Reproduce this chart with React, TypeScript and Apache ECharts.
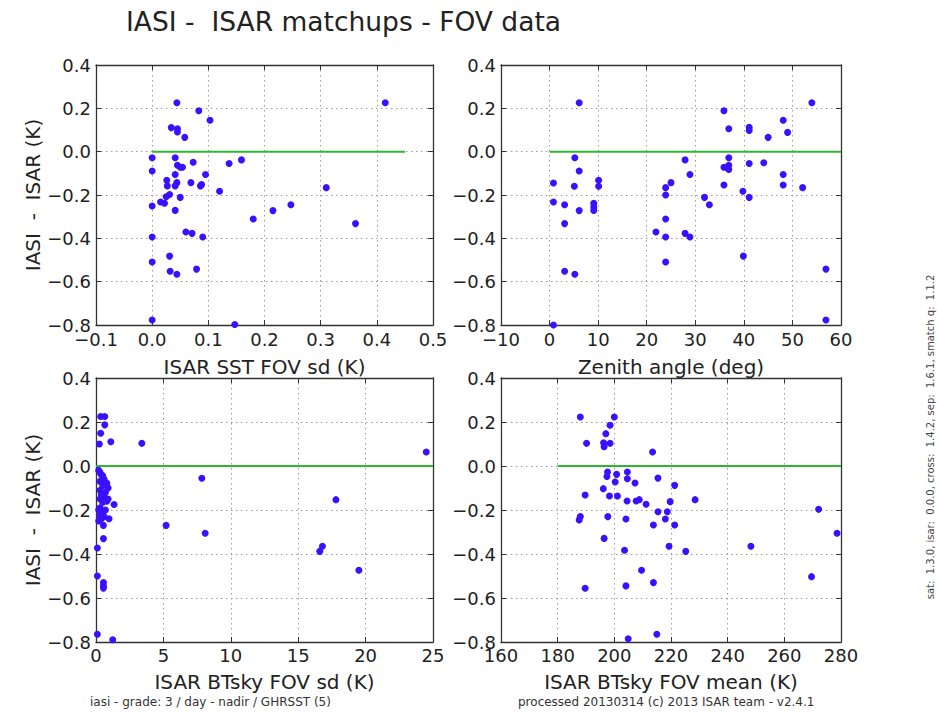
import React, { useEffect, useRef } from "react";
import * as echarts from "echarts";

const TITLE = "IASI -  ISAR matchups - FOV data";
const Y_NAME = "IASI  -  ISAR (K)";
const X_NAMES = ["ISAR SST FOV sd (K)", "Zenith angle (deg)", "ISAR BTsky FOV sd (K)", "ISAR BTsky FOV mean (K)"];
const FOOT_LEFT = "iasi - grade: 3 / day - nadir / GHRSST (5)";
const FOOT_RIGHT = "processed 20130314 (c) 2013 ISAR team - v2.4.1";
const SIDE_TEXT = "sat:  1.3.0, isar:  0.0.0, cross:  1.4.2, sep:  1.6.1, smatch q:  1.1.2";

// x ranges [min, max, interval]
const X_RANGES = [
  [-0.1, 0.5, 0.1],
  [-10, 60, 10],
  [0, 25, 5],
  [160, 280, 20],
];
const Y_RANGE = [-0.8, 0.4, 0.2];

const sstSdPoints = [
  [0.044, 0.226], [0.415, 0.226], [0.083, 0.189], [0.103, 0.145], [0.034, 0.111],
  [0.045, 0.106], [0.045, 0.091], [0.058, 0.066], [0.0, -0.028], [0.041, -0.028],
  [0.073, -0.049], [0.137, -0.055], [0.159, -0.038], [0.045, -0.063], [0.05, -0.072],
  [0.054, -0.072], [0.0, -0.089], [0.041, -0.105], [0.095, -0.105], [0.026, -0.132],
  [0.044, -0.143], [0.069, -0.143], [0.027, -0.158], [0.041, -0.158], [0.086, -0.158],
  [0.088, -0.152], [0.31, -0.166], [0.12, -0.183], [0.031, -0.198], [0.025, -0.208],
  [0.05, -0.211], [0.015, -0.232], [0.022, -0.238], [0.0, -0.251], [0.247, -0.245],
  [0.041, -0.271], [0.215, -0.272], [0.18, -0.311], [0.362, -0.332], [0.06, -0.371],
  [0.071, -0.377], [0.0, -0.394], [0.09, -0.394], [0.031, -0.482], [0.0, -0.509],
  [0.079, -0.542], [0.032, -0.552], [0.044, -0.566], [0.0, -0.777], [0.147, -0.798],
];

const zenithPoints = [
  [6.1, 0.226], [54, 0.226], [35.9, 0.189], [48.1, 0.145], [36.9, 0.106],
  [41.1, 0.112], [41.1, 0.098], [49, 0.089], [45, 0.066], [5.2, -0.028],
  [36.9, -0.028], [27.9, -0.038], [44.1, -0.051], [41.1, -0.055], [35.9, -0.072],
  [36.9, -0.063], [36.6, -0.074], [36.9, -0.082], [6.1, -0.089], [28.9, -0.105],
  [48.1, -0.105], [0.8, -0.145], [10.1, -0.132], [10.1, -0.16], [5.1, -0.16],
  [25, -0.143], [23.9, -0.166], [35.9, -0.154], [48.1, -0.154], [52.1, -0.166],
  [39.8, -0.183], [23.9, -0.2], [31.9, -0.211], [41.1, -0.211], [0.8, -0.232],
  [9.1, -0.238], [9.1, -0.255], [9.1, -0.271], [3.1, -0.245], [32.9, -0.245],
  [6.1, -0.272], [3.1, -0.332], [23.9, -0.311], [21.9, -0.371], [27.9, -0.377],
  [28.9, -0.394], [23.9, -0.394], [39.9, -0.482], [23.9, -0.509], [56.9, -0.542],
  [3.1, -0.552], [5.2, -0.566], [56.9, -0.777], [0.8, -0.8],
];

const btSdPoints = [
  [0.35, 0.225], [0.65, 0.225], [0.65, 0.187], [0.35, 0.149], [0.25, 0.1],
  [1.1, 0.11], [3.4, 0.103], [24.5, 0.064], [7.85, -0.056], [17.8, -0.153],
  [5.2, -0.27], [8.1, -0.306], [16.8, -0.365], [16.6, -0.388], [19.5, -0.474],
  [0.3, -0.03], [0.5, -0.045], [0.6, -0.06], [0.3, -0.07], [0.8, -0.078],
  [0.5, -0.09], [0.3, -0.11], [0.9, -0.1], [0.6, -0.14], [0.3, -0.15],
  [0.9, -0.15], [0.5, -0.165], [1.34, -0.175], [0.3, -0.19], [0.5, -0.21],
  [0.3, -0.225], [0.97, -0.24], [0.55, -0.27], [0.55, -0.33], [0.1, -0.373],
  [0.1, -0.5], [0.55, -0.53], [0.55, -0.545], [0.55, -0.555], [0.1, -0.765],
  [1.24, -0.79], [0.2, -0.02], [0.7, -0.12], [0.4, -0.13], [0.2, -0.2],
  [0.7, -0.2], [0.4, -0.24], [0.8, -0.16], [0.2, -0.25], [0.6, -0.23],
  [0.4, -0.04],
];

const btMeanPoints = [
  [188, 0.223], [200, 0.223], [198.5, 0.185], [197, 0.147], [190.2, 0.103],
  [196.2, 0.106], [198.5, 0.103], [196.4, 0.088], [213.5, 0.064], [197.6, -0.027],
  [197.4, -0.048], [200.8, -0.038], [204.6, -0.027], [204.6, -0.058], [215.4, -0.055],
  [200.3, -0.073], [207.3, -0.077], [221.3, -0.088], [196.1, -0.103], [189.7, -0.132],
  [198.3, -0.136], [201.1, -0.136], [204.5, -0.159], [207.7, -0.159], [208.8, -0.153],
  [211.2, -0.174], [219.7, -0.162], [228.5, -0.153], [215.4, -0.208], [218.7, -0.208],
  [218, -0.241], [204.1, -0.241], [197.7, -0.23], [188, -0.23], [187.6, -0.245],
  [213.8, -0.268], [221.3, -0.268], [272.1, -0.197], [278.6, -0.306], [196.4, -0.329],
  [203.6, -0.383], [219.3, -0.365], [225.2, -0.388], [248.2, -0.365], [209.6, -0.474],
  [269.6, -0.503], [204.1, -0.545], [213.8, -0.53], [189.7, -0.556], [215, -0.765],
  [204.9, -0.785],
];

const zeroLines = [
  [0, 0.45],
  [0, 60],
  [0, 25],
  [180, 280],
];

const PANEL_POINTS = [sstSdPoints, zenithPoints, btSdPoints, btMeanPoints];

const GRIDS = [
  { left: 96, top: 65, width: 337, height: 260 },
  { left: 501, top: 65, width: 340, height: 260 },
  { left: 96, top: 378, width: 337, height: 264 },
  { left: 501, top: 378, width: 340, height: 264 },
];

const FONT = "DejaVu Sans";
const TEXT_COLOR = "#222";
const FRAME = { color: "#333", width: 1.3 };
const GRID_LINE = { color: "#9a9a9a", type: [1.5, 3.5] as any, width: 1 };
const POINT_COLOR = "#3a10ff";
const ZERO_COLOR = "#2fb82f";

const minus = (s: string) => s.replace("-", "\u2212");

function fmtX(i: number) {
  return (v: number) => {
    if (i === 0) return minus((Math.round(v * 10) / 10).toFixed(1));
    return minus(String(Math.round(v)));
  };
}
const fmtY = (v: number) => minus((Math.round(v * 10) / 10).toFixed(1));

export default function App() {
  const ref = useRef<HTMLDivElement>(null);
  useEffect(() => {
    document.body.style.margin = "0";
    if (!ref.current) return;
    const chart = echarts.init(ref.current, undefined, { renderer: "svg" });

    const xAxis: any[] = [];
    const yAxis: any[] = [];
    const series: any[] = [];

    GRIDS.forEach((_, i) => {
      const [xmin, xmax, xint] = X_RANGES[i];
      const [ymin, ymax, yint] = Y_RANGE;
      const bottomRow = i >= 2;
      xAxis.push({
        type: "value",
        gridIndex: i,
        min: xmin,
        max: xmax,
        interval: xint,
        position: "bottom",
        name: X_NAMES[i],
        nameLocation: "middle",
        nameGap: bottomRow ? 30 : 32,
        nameTextStyle: { fontFamily: FONT, fontSize: 20, color: TEXT_COLOR },
        axisLine: { show: true, onZero: false, lineStyle: FRAME },
        axisTick: { show: true, inside: true, length: 5, lineStyle: { color: "#333" } },
        axisLabel: {
          show: true,
          margin: bottomRow ? 4 : 5,
          fontFamily: FONT,
          fontSize: 18,
          color: TEXT_COLOR,
          formatter: fmtX(i),
        },
        splitLine: { show: true, lineStyle: GRID_LINE },
      });
      xAxis.push({
        type: "value",
        gridIndex: i,
        min: xmin,
        max: xmax,
        interval: xint,
        position: "top",
        axisLine: { show: true, onZero: false, lineStyle: FRAME },
        axisTick: { show: true, inside: true, length: 5, lineStyle: { color: "#333" } },
        axisLabel: { show: false },
        splitLine: { show: false },
      });
      const leftCol = i % 2 === 0;
      yAxis.push({
        type: "value",
        gridIndex: i,
        min: ymin,
        max: ymax,
        interval: yint,
        position: "left",
        name: leftCol ? Y_NAME : "",
        nameLocation: "middle",
        nameRotate: 90,
        nameGap: 51,
        nameTextStyle: { fontFamily: FONT, fontSize: 20, color: TEXT_COLOR },
        axisLine: { show: true, onZero: false, lineStyle: FRAME },
        axisTick: { show: true, inside: true, length: 5, lineStyle: { color: "#333" } },
        axisLabel: {
          show: true,
          margin: 5,
          fontFamily: FONT,
          fontSize: 18,
          color: TEXT_COLOR,
          formatter: fmtY,
        },
        splitLine: { show: true, lineStyle: GRID_LINE },
      });
      yAxis.push({
        type: "value",
        gridIndex: i,
        min: ymin,
        max: ymax,
        interval: yint,
        position: "right",
        axisLine: { show: true, onZero: false, lineStyle: FRAME },
        axisTick: { show: true, inside: true, length: 5, lineStyle: { color: "#333" } },
        axisLabel: { show: false },
        splitLine: { show: false },
      });

      series.push({
        type: "line",
        xAxisIndex: i * 2,
        yAxisIndex: i * 2,
        data: [
          [zeroLines[i][0], 0],
          [zeroLines[i][1], 0],
        ],
        symbol: "none",
        lineStyle: { color: ZERO_COLOR, width: 2 },
        silent: true,
        z: 3,
      });
      series.push({
        type: "scatter",
        xAxisIndex: i * 2,
        yAxisIndex: i * 2,
        data: PANEL_POINTS[i],
        symbol: "circle",
        symbolSize: 7,
        itemStyle: { color: POINT_COLOR, opacity: 1 },
        silent: true,
        z: 4,
      });
    });

    chart.setOption({
      animation: false,
      backgroundColor: "#ffffff",
      title: {
        text: TITLE,
        left: 121,
        top: 3,
        textStyle: { fontFamily: FONT, fontSize: 26.5, fontWeight: "normal", color: TEXT_COLOR },
      },
      grid: GRIDS.map((g) => ({ ...g, containLabel: false })),
      xAxis,
      yAxis,
      series,
      graphic: [
        {
          type: "text",
          left: 90,
          top: 696,
          style: { text: FOOT_LEFT, fontFamily: FONT, fontSize: 12, fill: "#333" },
        },
        {
          type: "text",
          left: 518,
          top: 696,
          style: { text: FOOT_RIGHT, fontFamily: FONT, fontSize: 12, fill: "#333" },
        },
        {
          type: "text",
          x: 930,
          y: 437,
          rotation: Math.PI / 2,
          style: {
            text: SIDE_TEXT,
            fontFamily: FONT,
            fontSize: 10,
            fill: "#444",
            align: "center",
            verticalAlign: "middle",
          },
        },
      ],
    });

    return () => chart.dispose();
  }, []);

  return <div ref={ref} style={{ width: 938, height: 713 }} />;
}
